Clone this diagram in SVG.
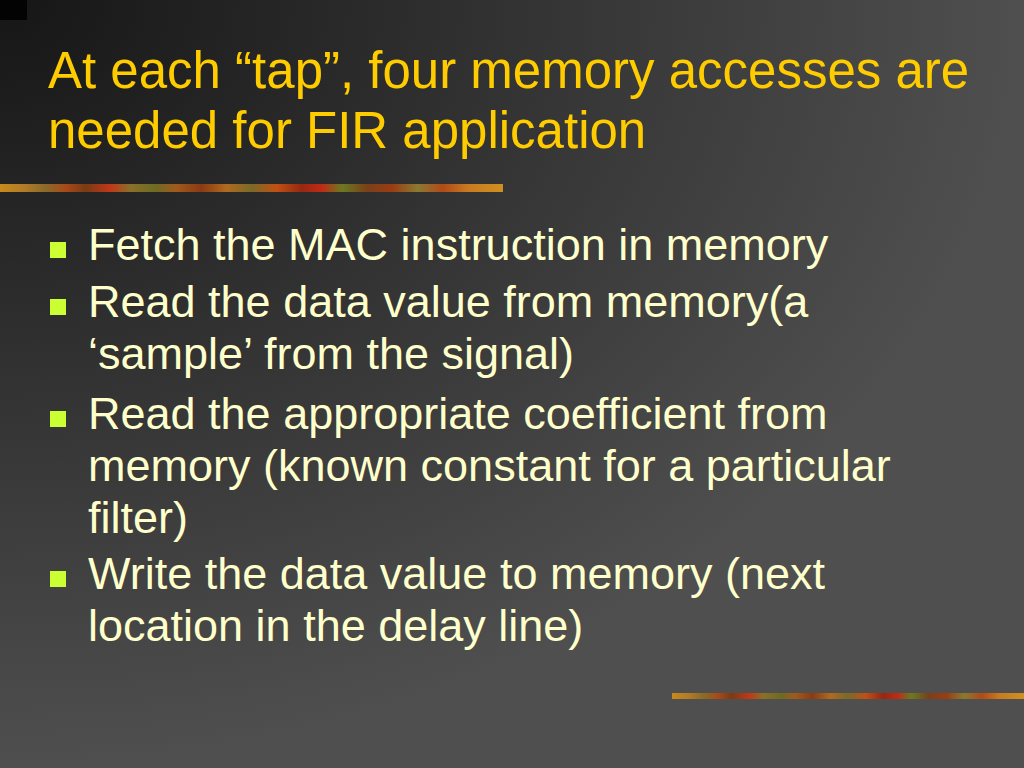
<svg xmlns="http://www.w3.org/2000/svg" width="1024" height="768" viewBox="0 0 1024 768">
  <defs>
    <radialGradient id="bg" cx="0" cy="0" r="1" fx="0" fy="0" gradientUnits="objectBoundingBox">
      <stop offset="0" stop-color="#161616"/>
      <stop offset="1" stop-color="#4f4f4f"/>
    </radialGradient>
    <linearGradient id="bar" x1="0" y1="0" x2="1" y2="0">
      <stop offset="0" stop-color="#c88a1c"/>
      <stop offset="0.05" stop-color="#b07a28"/>
      <stop offset="0.09" stop-color="#8a6a2a"/>
      <stop offset="0.13" stop-color="#a84a18"/>
      <stop offset="0.17" stop-color="#7a3a14"/>
      <stop offset="0.22" stop-color="#c03818"/>
      <stop offset="0.26" stop-color="#8a7028"/>
      <stop offset="0.31" stop-color="#6e6a22"/>
      <stop offset="0.35" stop-color="#a05a1c"/>
      <stop offset="0.40" stop-color="#8a3a12"/>
      <stop offset="0.45" stop-color="#b06a20"/>
      <stop offset="0.50" stop-color="#7a6a28"/>
      <stop offset="0.55" stop-color="#c05014"/>
      <stop offset="0.60" stop-color="#962812"/>
      <stop offset="0.64" stop-color="#c02a14"/>
      <stop offset="0.68" stop-color="#6a7a22"/>
      <stop offset="0.73" stop-color="#7a4018"/>
      <stop offset="0.78" stop-color="#9a3c14"/>
      <stop offset="0.83" stop-color="#8a7a30"/>
      <stop offset="0.88" stop-color="#b04a18"/>
      <stop offset="0.93" stop-color="#c87a20"/>
      <stop offset="1" stop-color="#d09020"/>
    </linearGradient>
    <style>
      .title { font-family: "Liberation Sans", Arial, sans-serif; font-size: 51px; fill: #ffcc00; }
      .body { font-family: "Liberation Sans", Arial, sans-serif; font-size: 45px; fill: #ffffcc; }
      .bullet { fill: #ccff33; }
    </style>
  </defs>

  <g id="background">
    <rect x="0" y="0" width="1024" height="768" fill="url(#bg)"/>
    <rect x="0" y="0" width="27" height="20" fill="#030303"/>
    <rect x="0" y="184" width="503" height="8" fill="url(#bar)"/>
    <rect x="672" y="693" width="352" height="6" fill="url(#bar)"/>
  </g>

  <g id="title">
    <text class="title" x="48" y="88">At each “tap”, four memory accesses are</text>
    <text class="title" x="48" y="148">needed for FIR application</text>
  </g>

  <g id="bullet1">
    <rect class="bullet" x="50" y="242" width="16" height="16"/>
    <text class="body" x="88" y="260">Fetch the MAC instruction in memory</text>
  </g>
  <g id="bullet2">
    <rect class="bullet" x="50" y="299" width="16" height="16"/>
    <text class="body" x="88" y="317">Read the data value from memory(a</text>
    <text class="body" x="88" y="369">‘sample’ from the signal)</text>
  </g>
  <g id="bullet3">
    <rect class="bullet" x="50" y="411" width="16" height="16"/>
    <text class="body" x="88" y="429">Read the appropriate coefficient from</text>
    <text class="body" x="88" y="481">memory (known constant for a particular</text>
    <text class="body" x="88" y="533">filter)</text>
  </g>
  <g id="bullet4">
    <rect class="bullet" x="50" y="571" width="16" height="16"/>
    <text class="body" x="88" y="589">Write the data value to memory (next</text>
    <text class="body" x="88" y="641">location in the delay line)</text>
  </g>

  <g id="connectors"/>
</svg>
